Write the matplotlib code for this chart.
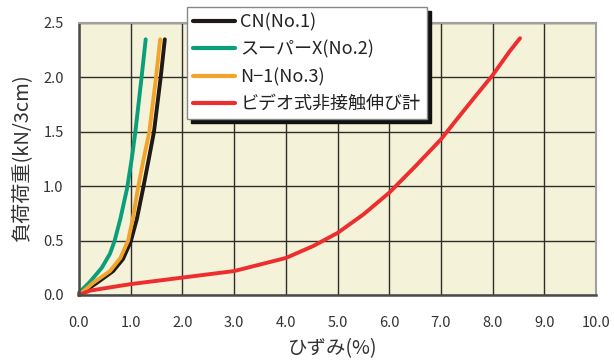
import numpy as np
import matplotlib.pyplot as plt

plt.rcParams['font.family'] = ['Noto Sans CJK JP', 'DejaVu Sans']

# データ (ひずみ %, 荷重 kN/3cm)
cn_x = [0.0, 0.34, 0.66, 0.85, 1.0, 1.12, 1.24, 1.35, 1.45, 1.58, 1.66]
cn_y = [0.0, 0.11, 0.22, 0.33, 0.49, 0.70, 0.98, 1.25, 1.50, 2.00, 2.35]

sx_x = [0.0, 0.21, 0.44, 0.60, 0.69, 0.80, 0.93, 1.02, 1.09, 1.21, 1.29]
sx_y = [0.02, 0.12, 0.25, 0.38, 0.50, 0.70, 0.98, 1.25, 1.50, 2.00, 2.35]

n1_x = [0.0, 0.27, 0.60, 0.80, 0.95, 1.04, 1.14, 1.25, 1.36, 1.49, 1.57]
n1_y = [0.0, 0.11, 0.22, 0.34, 0.50, 0.70, 0.98, 1.25, 1.50, 2.00, 2.35]

vid_x = [0.0, 0.21, 0.47, 1.0, 1.5, 2.0, 2.5, 3.0, 3.5, 4.0, 4.53, 5.0,
         5.5, 6.0, 6.5, 7.0, 7.3, 7.69, 8.0, 8.33, 8.53]
vid_y = [0.0, 0.04, 0.06, 0.10, 0.13, 0.16, 0.19, 0.22, 0.28, 0.34, 0.45, 0.57,
         0.74, 0.94, 1.18, 1.43, 1.61, 1.84, 2.02, 2.24, 2.36]

labels = ['CN(No.1)', 'スーパーX(No.2)', 'N−1(No.3)', 'ビデオ式非接触伸び計']
colors = ['#1f1a17', '#0a9e7a', '#f2a42a', '#ee2d2e']

fig = plt.figure(figsize=(6.14, 3.64), dpi=100)
ax = fig.add_axes([79/614, 69/364, 517/614, 272/364])
ax.set_facecolor('#f4f2d8')

series = [(cn_x, cn_y), (sx_x, sx_y), (n1_x, n1_y), (vid_x, vid_y)]
for (xs, ys), lab, c in zip(series, labels, colors):
    ax.plot(xs, ys, color=c, lw=2.8, label=lab, solid_capstyle='round',
            solid_joinstyle='round', clip_on=False)

ax.set_xlim(0, 10)
ax.set_ylim(0, 2.5)
xt = np.arange(0, 10.1, 1.0)
yt = np.arange(0, 2.51, 0.5)
ax.set_xticks(xt)
ax.set_yticks(yt)
ax.set_xticklabels(['{:.1f}'.format(v) for v in xt])
ax.set_yticklabels(['{:.1f}'.format(v) for v in yt])
ax.grid(True, color='#2e2e2a', lw=1.0)
ax.tick_params(length=0, labelsize=10.5, labelcolor='#333333')
ax.tick_params(axis='x', pad=15)
ax.tick_params(axis='y', pad=11)

for s in ['left', 'bottom']:
    ax.spines[s].set_color('#4a4a4a')
    ax.spines[s].set_linewidth(1.8)
for s in ['top', 'right']:
    ax.spines[s].set_color('#a0a0a0')
    ax.spines[s].set_linewidth(1.5)

ax.set_xlabel('ひずみ(%)', fontsize=14, color='#333333')
ax.set_ylabel('負荷荷重(kN/3cm)', fontsize=14.5, color='#333333')
ax.xaxis.set_label_coords(0.49, -0.16)
ax.yaxis.set_label_coords(-0.088, 0.505)

leg = ax.legend(loc='upper left', bbox_to_anchor=(187/614, 1 - 7/364),
                bbox_transform=fig.transFigure, fontsize=13,
                handlelength=2.3, handletextpad=0.3, labelspacing=0.5,
                borderpad=0.35, borderaxespad=0, fancybox=False, framealpha=1,
                shadow={'color': '#111111', 'alpha': 1, 'ox': 3, 'oy': -3})
leg.get_frame().set_edgecolor('#888888')
leg.get_frame().set_linewidth(1.0)
for t in leg.get_texts():
    t.set_color('#222222')
for h in leg.get_lines():
    h.set_linewidth(3.0)

fig.savefig('out.png', dpi=100)
